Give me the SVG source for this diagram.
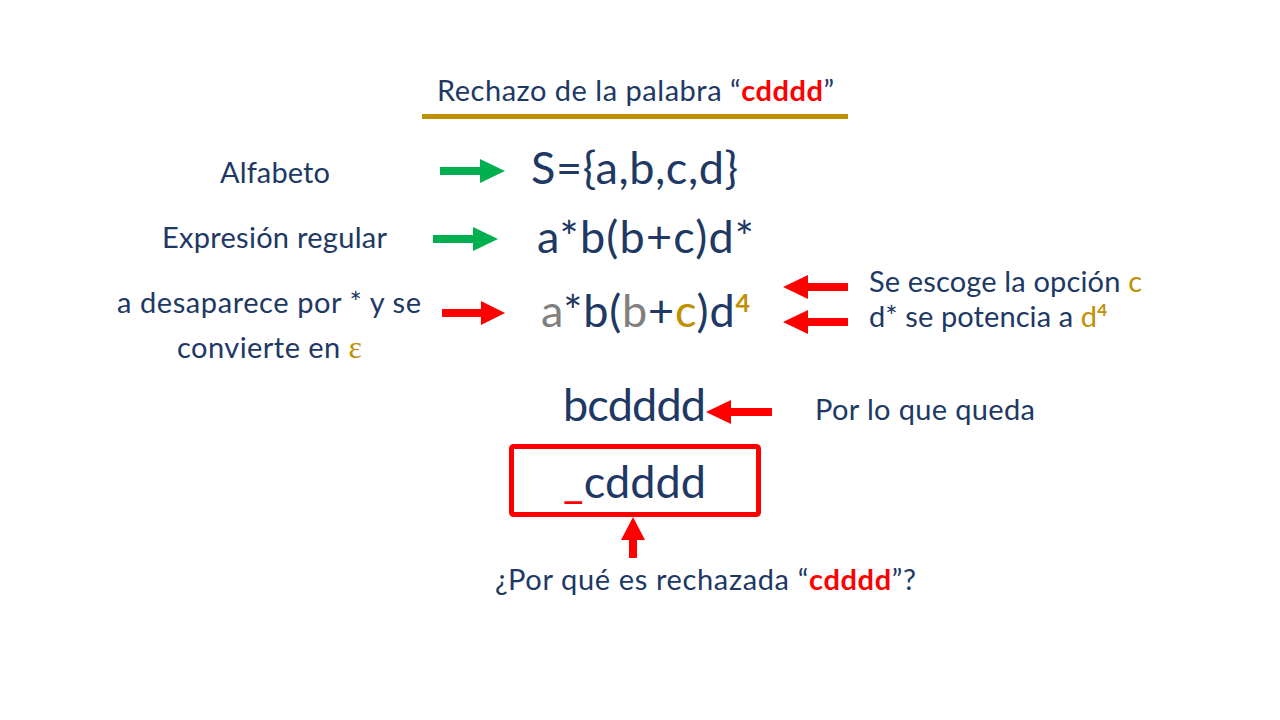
<svg xmlns="http://www.w3.org/2000/svg" width="1280" height="720" viewBox="0 0 1280 720">
<style>
text{font-family:Lato,"Open Sans","Noto Sans",sans-serif;fill:#203864}
.s{font-size:29px}
.b{font-size:45px}
.g{fill:#BF9000}
.gr{fill:#808080}
.r{fill:#FF0000;font-weight:bold}
.ga{fill:#00B050}
.ra{fill:#FF0000}
</style>
<rect width="1280" height="720" fill="#fff"/>
<g id="title">
<text class="s" x="437" y="101" textLength="397" lengthAdjust="spacing">Rechazo de la palabra “<tspan class="r">cdddd</tspan>”</text>
<rect x="422" y="114" width="426" height="5" fill="#BF9000"/>
</g>
<g id="alfabeto"><text class="s" x="220" y="183" textLength="110" lengthAdjust="spacing">Alfabeto</text></g>
<g id="sigma"><text class="b" x="531" y="184" textLength="207" lengthAdjust="spacing">S={a,b,c,d}</text></g>
<g id="expr-label"><text class="s" x="162" y="248" textLength="225" lengthAdjust="spacing">Expresión regular</text></g>
<g id="expr"><text class="b" x="537" y="253" textLength="217" lengthAdjust="spacing">a*b(b+c)d*</text></g>
<g id="desaparece"><text class="s" x="117" y="313" textLength="304" lengthAdjust="spacing">a desaparece por * y se</text>
<text class="s" x="177" y="358" textLength="185" lengthAdjust="spacing">convierte en <tspan class="g" font-family="'Liberation Serif',serif" font-size="32">ε</tspan></text></g>
<g id="expr2"><text class="b" x="541" y="327" textLength="209" lengthAdjust="spacing"><tspan class="gr">a</tspan>*b(<tspan class="gr">b</tspan>+<tspan class="g">c</tspan>)d<tspan class="g" font-weight="bold" font-size="25" dy="-15">4</tspan></text></g>
<g id="opcion"><text class="s" x="869" y="292" textLength="273" lengthAdjust="spacing">Se escoge la opción <tspan class="g">c</tspan></text>
<text class="s" x="869" y="327" textLength="238" lengthAdjust="spacing">d* se potencia a <tspan class="g">d<tspan font-size="17" dy="-11" font-weight="bold">4</tspan></tspan></text></g>
<g id="bcdddd"><text class="b" x="563" y="421" textLength="143" lengthAdjust="spacing">bcdddd</text></g>
<g id="queda"><text class="s" x="815" y="420" textLength="220" lengthAdjust="spacing">Por lo que queda</text></g>
<g id="cdddd">
<rect x="511.5" y="446.5" width="247" height="68" rx="2" fill="none" stroke="#FF0000" stroke-width="5"/>
<text class="b" x="563" y="498" textLength="143" lengthAdjust="spacing"><tspan fill="#FF0000">_</tspan>cdddd</text>
</g>
<g id="pregunta"><text class="s" x="495" y="590" textLength="421" lengthAdjust="spacing">¿Por qué es rechazada “<tspan class="r">cdddd</tspan>”?</text></g>
<g id="connectors">
<polygon class="ga" points="440,167 480,167 480,159 505,171 480,183 480,175 440,175"/>
<polygon class="ga" points="433,235 473,235 473,227 498,239 473,251 473,243 433,243"/>
<polygon class="ra" points="442,309 481,309 481,301 505,313 481,325 481,317 442,317"/>
<polygon class="ra" points="848,283 808,283 808,275 783,287 808,299 808,291 848,291"/>
<polygon class="ra" points="848,318 808,318 808,310 783,322 808,334 808,326 848,326"/>
<polygon class="ra" points="772,408 731,408 731,400 706,412 731,424 731,416 772,416"/>
<polygon class="ra" points="629,558 629,540 621,540 633,517 645,540 637,540 637,558"/>
</g>
</svg>
